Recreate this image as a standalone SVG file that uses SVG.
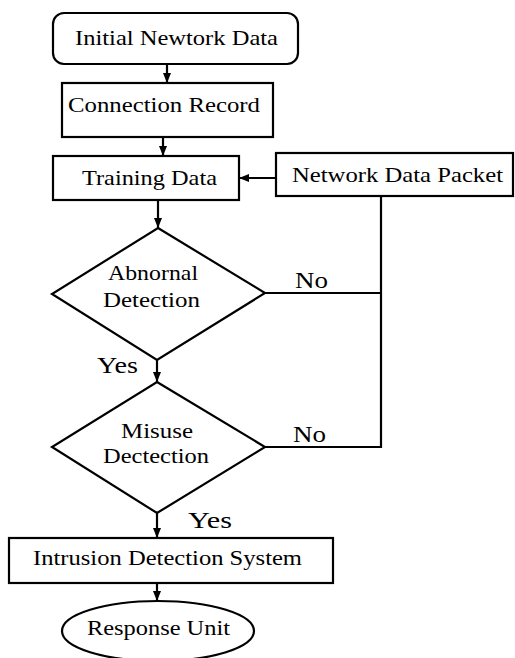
<svg xmlns="http://www.w3.org/2000/svg" width="515" height="658" viewBox="0 0 515 658">
<style>
.s{fill:#fff;stroke:#000;stroke-width:2.2}
.c{fill:none;stroke:#000;stroke-width:2.2}
text{font-family:"Liberation Serif","Times New Roman",serif;font-size:22px;fill:#000}
.l{font-size:23px}
</style>
<defs>
<marker id="a" markerUnits="userSpaceOnUse" markerWidth="10" markerHeight="10" viewBox="0 0 10 10" refX="10" refY="5" orient="auto">
<path d="M0,1 L10,5 L0,9 Z" fill="#000"/>
</marker>
</defs>
<rect width="515" height="658" fill="#fff"/>
<g id="connectors">
<line class="c" x1="167" y1="64" x2="167" y2="83" marker-end="url(#a)"/>
<line class="c" x1="163" y1="137" x2="163" y2="156" marker-end="url(#a)"/>
<line class="c" x1="276" y1="178" x2="239" y2="178" marker-end="url(#a)"/>
<line class="c" x1="158" y1="200" x2="158" y2="228" marker-end="url(#a)"/>
<line class="c" x1="157" y1="360" x2="157" y2="382" marker-end="url(#a)"/>
<line class="c" x1="157" y1="513" x2="157" y2="538" marker-end="url(#a)"/>
<line class="c" x1="157" y1="583" x2="157" y2="601" marker-end="url(#a)"/>
<polyline class="c" points="381,196 381,447 265,447"/>
<line class="c" x1="265" y1="293" x2="381" y2="293"/>
<text class="l" x="295" y="288" textLength="33" lengthAdjust="spacingAndGlyphs">No</text>
<text class="l" x="293" y="442" textLength="33" lengthAdjust="spacingAndGlyphs">No</text>
<text class="l" x="97" y="373" textLength="41" lengthAdjust="spacingAndGlyphs">Yes</text>
<text class="l" x="188" y="528" textLength="44" lengthAdjust="spacingAndGlyphs">Yes</text>
</g>
<g id="initial">
<rect class="s" x="53" y="13" width="245" height="51" rx="11"/>
<text x="75" y="45" font-size="21" textLength="203" lengthAdjust="spacingAndGlyphs">Initial Newtork Data</text>
</g>
<g id="connection">
<rect class="s" x="62" y="83" width="211" height="54"/>
<text x="68" y="112" textLength="192" lengthAdjust="spacingAndGlyphs">Connection Record</text>
</g>
<g id="training">
<rect class="s" x="53" y="156" width="186" height="44"/>
<text x="82" y="185" textLength="135" lengthAdjust="spacingAndGlyphs">Training Data</text>
</g>
<g id="packet">
<rect class="s" x="276" y="153" width="237" height="43"/>
<text x="292" y="182" textLength="211" lengthAdjust="spacingAndGlyphs">Network Data Packet</text>
</g>
<g id="abnormal">
<polygon class="s" points="158,228 265,293 157,360 52,294"/>
<text x="108" y="280" textLength="90" lengthAdjust="spacingAndGlyphs">Abnornal</text>
<text x="103" y="307" textLength="97" lengthAdjust="spacingAndGlyphs">Detection</text>
</g>
<g id="misuse">
<polygon class="s" points="157,382 265,447 157,513 52,447"/>
<text x="121" y="438" textLength="72" lengthAdjust="spacingAndGlyphs">Misuse</text>
<text x="103" y="463" textLength="106" lengthAdjust="spacingAndGlyphs">Dectection</text>
</g>
<g id="ids">
<rect class="s" x="9" y="538" width="324" height="45"/>
<text x="33" y="565" textLength="269" lengthAdjust="spacingAndGlyphs">Intrusion Detection System</text>
</g>
<g id="response">
<ellipse class="s" cx="158" cy="631" rx="96" ry="30"/>
<text x="87" y="635" font-size="21" textLength="143" lengthAdjust="spacingAndGlyphs">Response Unit</text>
</g>
</svg>
